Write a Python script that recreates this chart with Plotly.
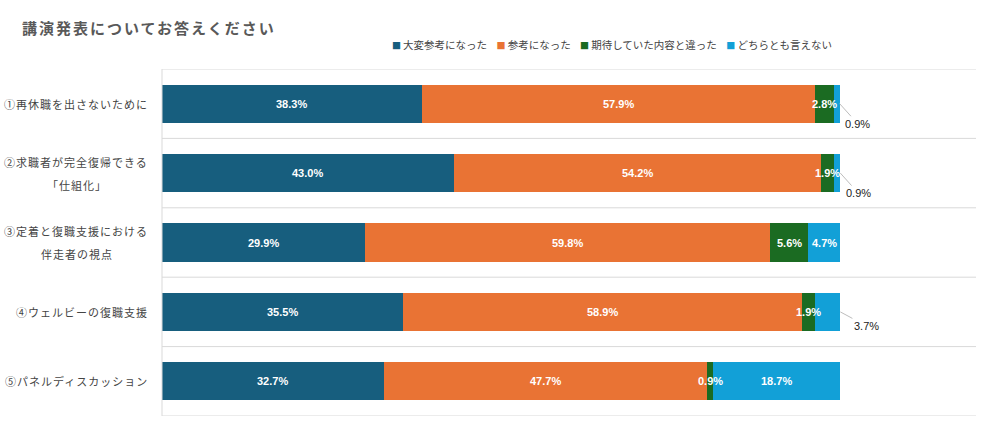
import plotly.graph_objects as go
import numpy as np

title = "講演発表についてお答えください"

categories = [
    "①再休職を出さないために",
    "②求職者が完全復帰できる<br>「仕組化」",
    "③定着と復職支援における<br>伴走者の視点",
    "④ウェルビーの復職支援",
    "⑤パネルディスカッション",
]

series_names = ["大変参考になった", "参考になった", "期待していた内容と違った", "どちらとも言えない"]
very_useful = [38.3, 43.0, 29.9, 35.5, 32.7]
useful = [57.9, 54.2, 59.8, 58.9, 47.7]
not_expected = [2.8, 1.9, 5.6, 1.9, 0.9]
neither = [0.9, 0.9, 4.7, 3.7, 18.7]

colors = ["#175E7E", "#E97334", "#1B6B22", "#12A0D7"]

JP_FONT = "Noto Sans CJK JP, Noto Sans, sans-serif"
NUM_FONT = "Liberation Sans Narrow, Arial Narrow, Liberation Sans, sans-serif"

series = [very_useful, useful, not_expected, neither]
ypos = list(range(len(categories)))

fig = go.Figure()
for name, vals, col in zip(series_names, series, colors):
    fig.add_trace(go.Bar(
        x=vals, y=ypos, name=name, orientation="h",
        marker=dict(color=col, line=dict(width=0)),
        width=0.55, hoverinfo="x+name", showlegend=False,
    ))

W, H = 985, 423
L, R, T, B = 162, 9, 69, 7
pw, ph = W - L - R, H - T - B


def px_to_paper(x, y):
    return (x - L) / pw, 1 + (T - y) / ph


annotations = []

# value labels inside the bars (small blue ones are pulled out with a leader line)
callouts = {(3, 0): (18, 20), (3, 1): (18, 20), (3, 3): (26, 14)}
cum = np.zeros(len(categories))
for si, vals in enumerate(series):
    for ci, v in enumerate(vals):
        mid = cum[ci] + v / 2
        end = cum[ci] + v
        if (si, ci) in callouts:
            ax, ay = callouts[(si, ci)]
            annotations.append(dict(
                x=end, y=ci, xref="x", yref="y", text=f"{v:.1f}%",
                showarrow=True, arrowhead=0, arrowwidth=1, arrowcolor="#bdbdbd",
                ax=ax, ay=ay, standoff=0, startstandoff=0,
                font=dict(family=NUM_FONT, size=11, color="#222222"),
            ))
        else:
            annotations.append(dict(
                x=mid, y=ci, xref="x", yref="y", text=f"<b>{v:.1f}%</b>",
                showarrow=False,
                font=dict(family=NUM_FONT, size=11, color="white"),
            ))
    cum += np.array(vals)

# category labels (two-line ones: first line right-aligned, second centred under it)
lab_x, _ = px_to_paper(150, 0)
sub_x, _ = px_to_paper(77, 0)
lab_font = dict(family=JP_FONT, size=11, color="#444444")
for ci, cat in enumerate(categories):
    lines = cat.split("<br>")
    if len(lines) == 1:
        annotations.append(dict(
            x=lab_x, y=ci, xref="paper", yref="y", xanchor="right",
            text=f"<span style='letter-spacing:1px'>{cat}</span>",
            showarrow=False, font=lab_font,
        ))
    else:
        annotations.append(dict(
            x=lab_x, y=ci, xref="paper", yref="y", xanchor="right", yshift=11.5,
            text=f"<span style='letter-spacing:1px'>{lines[0]}</span>",
            showarrow=False, font=lab_font,
        ))
        annotations.append(dict(
            x=sub_x, y=ci, xref="paper", yref="y", xanchor="center", yshift=-11.5,
            text=f"<span style='letter-spacing:1px'>{lines[1]}</span>",
            showarrow=False, font=lab_font,
        ))

# legend drawn as one text line
gap = "\u00a0" * 4
legend_text = gap.join(
    f"<span style='color:{c};font-size:9px'>■</span>\u2009{n}" for n, c in zip(series_names, colors)
)
lx, ly = px_to_paper(612, 44)
annotations.append(dict(
    x=lx, y=ly, xref="paper", yref="paper", xanchor="center", yanchor="middle",
    text=legend_text, showarrow=False,
    font=dict(family=JP_FONT, size=10.5, color="#444444"),
))

# title
tx, ty = px_to_paper(20, 28)
annotations.append(dict(
    x=tx, y=ty, xref="paper", yref="paper", xanchor="left", yanchor="middle",
    text=f"<span style='letter-spacing:2px'><b>{title}</b></span>",
    showarrow=False,
    font=dict(family=JP_FONT, size=15, color="#595959"),
))

# separators between categories and left axis line
shapes = []
for b in np.arange(-0.5, len(categories), 1.0):
    shapes.append(dict(type="line", xref="paper", yref="y", x0=0, x1=1, y0=b, y1=b,
                       line=dict(color="#d9d9d9", width=1)))
shapes.append(dict(type="line", xref="paper", yref="y", x0=0, x1=0,
                   y0=-0.5, y1=len(categories) - 0.5, line=dict(color="#d9d9d9", width=1)))

fig.update_layout(
    barmode="stack",
    width=W, height=H,
    margin=dict(l=L, r=R, t=T, b=B, pad=0, autoexpand=False),
    paper_bgcolor="white", plot_bgcolor="white",
    xaxis=dict(range=[0, 120], showgrid=False, zeroline=False, showticklabels=False,
               fixedrange=True),
    yaxis=dict(range=[len(categories) - 0.5, -0.5], showgrid=False, zeroline=False,
               showticklabels=False, fixedrange=True),
    annotations=annotations,
    shapes=shapes,
    font=dict(family=JP_FONT),
)

# drop the default page margin so the chart sits flush with the window
fig.write_html("out.html", config={"displayModeBar": False},
               post_script="document.body.style.margin='0';")
